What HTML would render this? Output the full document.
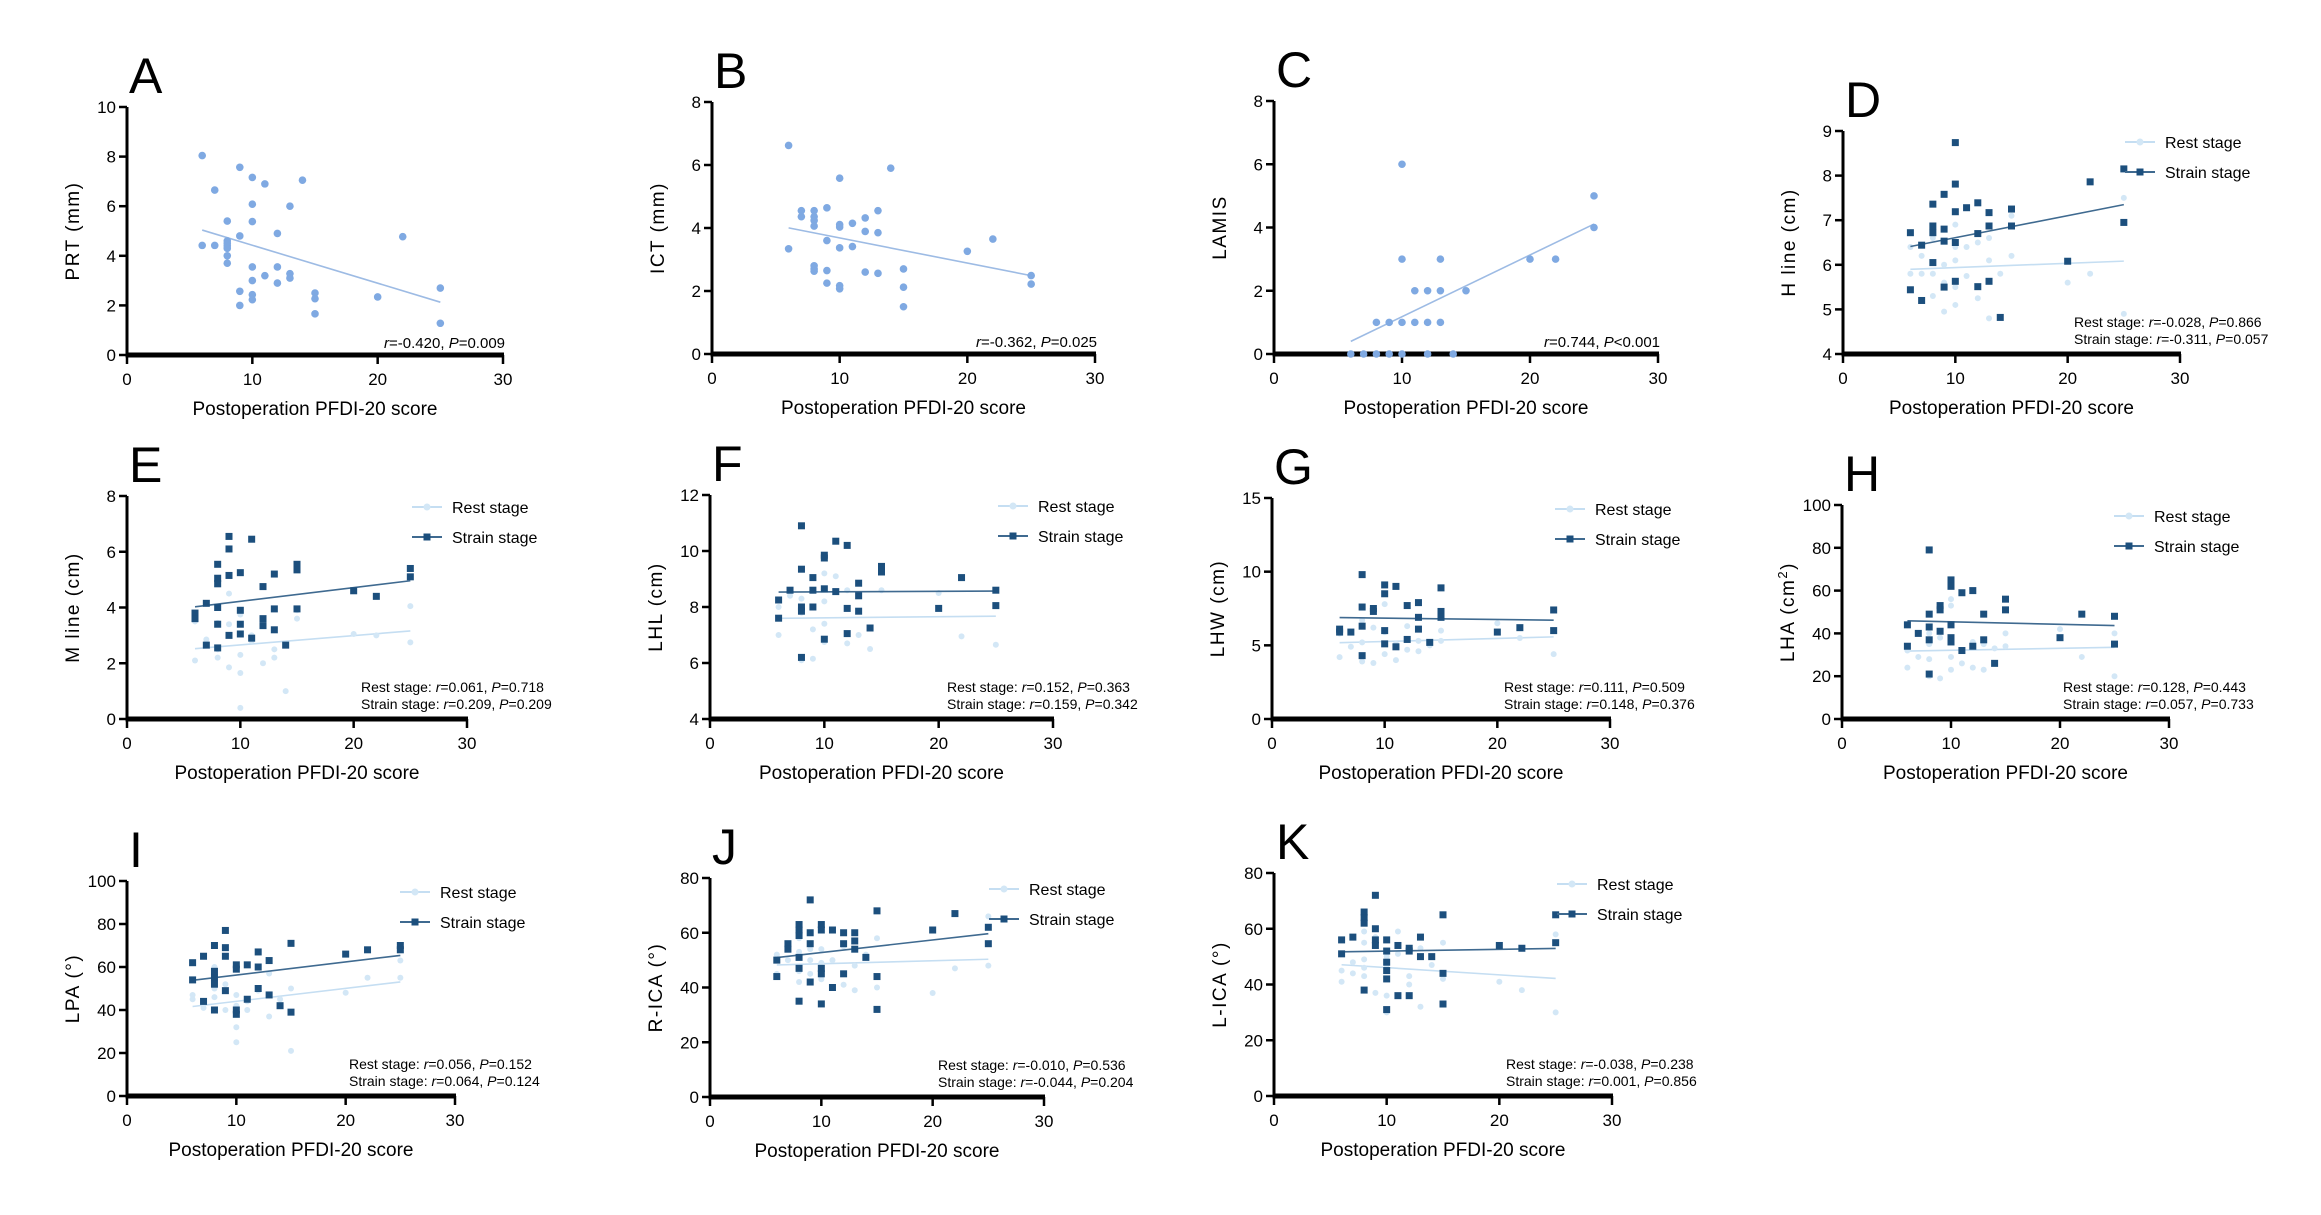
<!DOCTYPE html>
<html><head><meta charset="utf-8"><style>
html,body{margin:0;padding:0;background:#fff;}
svg{display:block;font-family:"Liberation Sans",Arial,sans-serif;}
</style></head><body>
<svg id="fig" width="2321" height="1215" viewBox="0 0 2321 1215"></svg>
<script>
// ---- Data (x = postoperation PFDI-20 score, y = measurement) ----
const aPts=[[6,8.04],[6,4.42],[7,6.65],[7,4.42],[8,5.4],[8,4.6],[8,4.4],[8,4.5],[8,4.3],[8,4.0],[8,3.7],[9,7.57],[9,4.8],[9,2.57],[9,2.0],[10,7.16],[10,6.08],[10,5.38],[10,3.55],[10,3.0],[10,2.43],[10,2.23],[11,6.9],[11,3.2],[12,4.9],[12,3.55],[12,2.9],[13,6.0],[13,3.28],[13,3.1],[14,7.05],[15,2.5],[15,2.27],[15,1.66],[20,2.34],[22,4.77],[25,2.7],[25,1.28]];
const bPts=[[6,6.62],[6,3.34],[7,4.55],[7,4.36],[8,4.55],[8,4.36],[8,4.24],[8,4.06],[8,2.8],[8,2.7],[8,2.63],[9,4.64],[9,3.6],[9,2.65],[9,2.25],[10,5.58],[10,4.11],[10,4.03],[10,3.37],[10,2.17],[10,2.07],[11,4.15],[11,3.41],[12,4.32],[12,3.89],[12,2.6],[13,4.55],[13,3.85],[13,2.56],[14,5.9],[15,2.7],[15,2.12],[15,1.5],[20,3.26],[22,3.65],[25,2.49],[25,2.22]];
const cPts=[[6,0],[7,0],[8,1],[8,0],[9,1],[9,0],[10,6],[10,3],[10,1],[10,0],[11,2],[11,1],[12,2],[12,1],[12,0],[13,3],[13,2],[13,1],[14,0],[15,2],[20,3],[22,3],[25,5],[25,4]];
const dRest=[[6,6.4],[6,5.8],[7,6.2],[7,5.8],[8,6.6],[8,5.8],[8,5.3],[9,6.0],[9,5.6],[9,4.95],[10,6.9],[10,6.4],[10,6.1],[10,5.5],[10,5.1],[11,6.4],[11,5.75],[12,6.5],[12,5.25],[13,6.6],[13,6.1],[13,4.8],[14,5.8],[15,6.2],[15,7.1],[20,5.6],[22,5.8],[25,7.5],[25,4.9]];
const dStrain=[[6,6.72],[6,5.44],[7,6.44],[7,5.2],[8,7.36],[8,6.87],[8,6.72],[8,6.05],[9,7.58],[9,6.8],[9,6.53],[9,5.5],[10,8.74],[10,7.81],[10,7.19],[10,6.5],[10,5.63],[11,7.28],[12,7.39],[12,6.7],[12,5.51],[13,7.17],[13,6.87],[13,5.63],[14,4.82],[15,7.25],[15,6.87],[20,6.08],[22,7.86],[25,8.15],[25,6.95]];
const eRest=[[6,3.5],[6,2.1],[7,2.85],[8,3.45],[8,2.5],[8,2.2],[9,4.5],[9,3.4],[9,1.85],[10,3.75],[10,2.3],[10,1.65],[10,0.4],[11,3.0],[11,2.8],[12,2.0],[13,2.5],[13,2.2],[14,1.0],[15,3.9],[15,3.6],[20,3.05],[22,3.0],[25,4.05],[25,2.75]];
const eStrain=[[6,3.8],[6,3.6],[7,4.15],[7,2.65],[8,5.55],[8,5.05],[8,4.85],[8,4.0],[8,3.4],[8,2.55],[9,6.55],[9,6.1],[9,5.15],[9,3.0],[10,5.25],[10,3.9],[10,3.4],[10,3.05],[11,6.45],[11,2.9],[12,4.75],[12,3.6],[12,3.35],[13,5.2],[13,3.95],[13,3.2],[14,2.65],[15,5.55],[15,5.35],[15,3.95],[20,4.6],[22,4.4],[25,5.4],[25,5.1]];
const fRest=[[6,7.0],[6,8.0],[7,8.4],[8,8.3],[8,7.8],[8,6.1],[9,7.2],[9,6.15],[10,9.2],[10,8.2],[10,7.4],[10,6.75],[11,9.1],[12,8.6],[12,6.7],[13,7.0],[14,6.5],[15,8.6],[20,8.5],[22,6.95],[25,8.6],[25,6.65]];
const fStrain=[[6,8.25],[6,7.6],[7,8.6],[8,10.9],[8,9.35],[8,8.0],[8,7.85],[8,6.2],[9,9.05],[9,8.6],[9,8.0],[10,9.85],[10,9.75],[10,8.65],[10,6.85],[11,10.35],[11,8.55],[12,10.2],[12,7.95],[12,7.05],[13,8.85],[13,8.4],[13,7.85],[14,7.25],[15,9.45],[15,9.25],[20,7.95],[22,9.05],[25,8.6],[25,8.05]];
const gRest=[[6,5.8],[6,4.2],[7,4.9],[8,6.7],[8,5.2],[8,3.9],[9,6.2],[9,3.8],[10,7.8],[10,5.9],[10,4.4],[11,5.1],[11,4.0],[12,6.3],[12,4.7],[13,5.3],[13,4.6],[14,5.0],[15,6.0],[15,5.3],[20,6.5],[22,5.5],[25,6.0],[25,4.4]];
const gStrain=[[6,6.1],[6,5.9],[7,5.9],[8,9.8],[8,7.6],[8,6.3],[8,4.3],[9,7.5],[9,7.3],[10,9.1],[10,8.5],[10,6.0],[10,5.1],[11,9.0],[11,4.9],[12,7.7],[12,5.4],[13,7.9],[13,6.9],[13,6.1],[14,5.2],[15,8.9],[15,7.3],[15,6.9],[20,5.9],[22,6.2],[25,7.4],[25,6.0]];
const hRest=[[6,32],[6,24],[7,29],[8,40],[8,35],[8,28],[8,20],[9,38],[9,19],[10,56],[10,53],[10,29],[10,23],[11,26],[12,36],[12,24],[13,35],[13,23],[14,33],[15,40],[15,34],[20,42],[22,29],[25,40],[25,20]];
const hStrain=[[6,34],[6,44],[7,40],[8,79],[8,49],[8,43],[8,37],[8,21],[9,53],[9,51],[9,41],[10,65],[10,62],[10,44],[10,38],[10,36],[11,59],[11,32],[12,60],[12,34],[13,49],[13,37],[14,26],[15,56],[15,51],[20,38],[22,49],[25,48],[25,35]];
const iRest=[[6,47],[6,45],[7,41],[8,60],[8,50],[8,46],[9,52],[9,40],[10,47],[10,42],[10,32],[10,25],[11,44],[11,40],[12,49],[13,57],[13,37],[14,45],[15,50],[15,21],[20,48],[22,55],[25,63],[25,55]];
const iStrain=[[6,62],[6,54],[7,65],[7,44],[8,70],[8,58],[8,55],[8,52],[8,40],[9,77],[9,69],[9,65],[9,49],[10,61],[10,59],[10,40],[10,38],[11,61],[11,45],[12,67],[12,60],[12,50],[13,63],[13,47],[14,42],[15,71],[15,39],[20,66],[22,68],[25,70],[25,68]];
const jRest=[[6,45],[6,52],[7,50],[8,58],[8,53],[8,46],[8,42],[9,54],[9,50],[9,45],[10,54],[10,49],[10,43],[11,50],[12,55],[12,41],[13,48],[13,39],[14,52],[15,58],[15,40],[20,38],[22,47],[25,66],[25,48]];
const jStrain=[[6,50],[6,44],[7,56],[7,54],[8,63],[8,61],[8,59],[8,51],[8,47],[8,35],[9,72],[9,60],[9,56],[9,42],[10,63],[10,61],[10,47],[10,45],[10,34],[11,61],[11,40],[12,60],[12,56],[12,45],[13,60],[13,57],[13,54],[14,51],[15,68],[15,44],[15,32],[20,61],[22,67],[25,62],[25,56]];
const kRest=[[6,45],[6,41],[7,48],[7,44],[8,59],[8,55],[8,49],[8,46],[8,43],[9,57],[9,37],[10,50],[10,47],[10,36],[10,30],[11,59],[11,51],[12,43],[12,40],[13,53],[13,32],[14,47],[15,55],[15,42],[20,41],[22,38],[25,58],[25,30]];
const kStrain=[[6,56],[6,51],[7,57],[8,66],[8,64],[8,62],[8,38],[9,72],[9,60],[9,56],[9,54],[10,56],[10,52],[10,48],[10,45],[10,42],[10,31],[11,54],[11,36],[12,53],[12,52],[12,36],[13,57],[13,50],[14,50],[15,65],[15,44],[15,33],[20,54],[22,53],[25,65],[25,55]];
const xTicks=[0,10,20,30];

const NS="http://www.w3.org/2000/svg";
const svg=document.getElementById('fig');
function mk(tag,attrs,parent,txt){const e=document.createElementNS(NS,tag);for(const k in attrs)e.setAttribute(k,attrs[k]);if(txt!==undefined)e.textContent=txt;(parent||svg).appendChild(e);return e;}
function fit(p){const n=p.length;let sx=0,sy=0,sxx=0,sxy=0;p.forEach(([x,y])=>{sx+=x;sy+=y;sxx+=x*x;sxy+=x*y;});const b=(n*sxy-sx*sy)/(n*sxx-sx*sx);const a=(sy-b*sx)/n;const xs=p.map(q=>q[0]);return{a,b,x0:Math.min(...xs),x1:Math.max(...xs)};}

const REST='#d3e7f6', RESTL='#c5def2', STRAIN='#1c4f7d', STRAINL='#3f6a90', SINGLE='#7fa9e2';

function panel(c){
  const g=mk('g',{});
  
  
  const sx=v=>c.ax+(v/30)*(c.x30-c.ax);
  const sy=v=>c.yb-(v-c.ymin)/(c.ymax-c.ymin)*(c.yb-c.yt);
  const L=mk('text',{x:c.ax+2,y:c.yt-14,'font-size':50,fill:'#000'},g,c.letter);
  
  
  // y ticks
  for(let v=c.ymin;v<=c.ymax+1e-9;v+=c.ystep){
    mk('line',{x1:c.ax-8,x2:c.ax,y1:sy(v),y2:sy(v),stroke:'#000','stroke-width':2.5},g);
    const t=mk('text',{x:c.ax-11,y:sy(v)+6,'font-size':17,'text-anchor':'end'},g,String(v));
    
    
  }
  xTicks.forEach(v=>{
    mk('line',{x1:sx(v),x2:sx(v),y1:c.yb,y2:c.yb+9,stroke:'#000','stroke-width':2.5},g);
    const t=mk('text',{x:sx(v),y:c.yb+30,'font-size':17,'text-anchor':'middle'},g,String(v));
    
    
  });
  const ya=mk('line',{x1:c.ax,x2:c.ax,y1:c.yt,y2:c.yb,stroke:'#000','stroke-width':3},g);
  
  
  const xa=mk('line',{x1:c.ax-1.5,x2:c.x30+1,y1:c.yb,y2:c.yb,stroke:'#000','stroke-width':5},g);
  
  
  const xt=mk('text',{x:(c.ax+c.x30)/2,y:c.yb+60,'font-size':19,'text-anchor':'middle'},g,'Postoperation PFDI-20 score');
  
  
  const cy=(c.yt+c.yb)/2, cx=c.ax-48;
  const yt=mk('text',{x:cx,y:cy,'font-size':19,'text-anchor':'middle','letter-spacing':'1.5',transform:`rotate(-90 ${cx} ${cy})`},g);
  yt.innerHTML=c.ytitle;
  
  
  c.series.forEach(s=>{
    const f=fit(s.pts);
    const rl=mk('line',{x1:sx(f.x0),y1:sy(f.a+f.b*f.x0),x2:sx(f.x1),y2:sy(f.a+f.b*f.x1),stroke:s.line,'stroke-width':1.6},g);
    
    
    s.pts.forEach(([x,y])=>{
      let m;
      if(s.shape==='sq') m=mk('rect',{x:sx(x)-3.5,y:sy(y)-3.5,width:7,height:7,fill:s.color},g);
      else m=mk('circle',{cx:sx(x),cy:sy(y),r:s.r,fill:s.color},g);
      
      
    });
  });
  if(c.stats1){
    const st=mk('text',{x:c.x30+2,y:c.yb-7,'font-size':15,'text-anchor':'end'},g);
    st.innerHTML=c.stats1;
    
    
  }
  if(c.stats2){
    const s1=mk('text',{x:c.x30-106,y:c.yb-27,'font-size':14},g);
    s1.innerHTML='Rest stage: '+c.stats2[0];
    
    
    const s2=mk('text',{x:c.x30-106,y:c.yb-10,'font-size':14},g);
    s2.innerHTML='Strain stage: '+c.stats2[1];
    
    
    // legend
    const lx=c.x30-55, ly1=c.yt+11, ly2=c.yt+41;
    const lg=mk('g',{},g);
    
    
    mk('line',{x1:lx,x2:lx+30,y1:ly1,y2:ly1,stroke:RESTL,'stroke-width':2},lg);
    mk('circle',{cx:lx+15,cy:ly1,r:3.5,fill:REST},lg);
    const t1=mk('text',{x:c.x30-15,y:ly1+6,'font-size':16},lg,'Rest stage');
    
    
    mk('line',{x1:lx,x2:lx+30,y1:ly2,y2:ly2,stroke:STRAINL,'stroke-width':2},lg);
    mk('rect',{x:lx+11.5,y:ly2-3.5,width:7,height:7,fill:STRAIN},lg);
    const t2=mk('text',{x:c.x30-15,y:ly2+6,'font-size':16},lg,'Strain stage');
    
    
  }
}
const single=p=>[{pts:p,shape:'c',r:3.8,color:SINGLE,line:'#9dbbe4',name:'patient'}];
const dual=(r,s)=>[{pts:r,shape:'c',r:3,color:REST,line:RESTL,name:'rest-stage'},{pts:s,shape:'sq',color:STRAIN,line:STRAINL,name:'strain-stage'}];
const it=(r,p)=>`<tspan font-style="italic">r</tspan>=${r}, <tspan font-style="italic">P</tspan>${p}`;

panel({letter:'A',ax:127,x30:503,yb:355,yt:107,ymin:0,ymax:10,ystep:2,ytitle:'PRT (mm)',series:single(aPts),stats1:it('-0.420','=0.009')});
panel({letter:'B',ax:712,x30:1095,yb:354,yt:102,ymin:0,ymax:8,ystep:2,ytitle:'ICT (mm)',series:single(bPts),stats1:it('-0.362','=0.025')});
panel({letter:'C',ax:1274,x30:1658,yb:354,yt:101,ymin:0,ymax:8,ystep:2,ytitle:'LAMIS',series:single(cPts),stats1:it('0.744','&lt;0.001')});
panel({letter:'D',ax:1843,x30:2180,yb:354,yt:131,ymin:4,ymax:9,ystep:1,ytitle:'H line (cm)',series:dual(dRest,dStrain),stats2:[it('-0.028','=0.866'),it('-0.311','=0.057')]});
panel({letter:'E',ax:127,x30:467,yb:719,yt:496,ymin:0,ymax:8,ystep:2,ytitle:'M line (cm)',series:dual(eRest,eStrain),stats2:[it('0.061','=0.718'),it('0.209','=0.209')]});
panel({letter:'F',ax:710,x30:1053,yb:719,yt:495,ymin:4,ymax:12,ystep:2,ytitle:'LHL (cm)',series:dual(fRest,fStrain),stats2:[it('0.152','=0.363'),it('0.159','=0.342')]});
panel({letter:'G',ax:1272,x30:1610,yb:719,yt:498,ymin:0,ymax:15,ystep:5,ytitle:'LHW (cm)',series:dual(gRest,gStrain),stats2:[it('0.111','=0.509'),it('0.148','=0.376')]});
panel({letter:'H',ax:1842,x30:2169,yb:719,yt:505,ymin:0,ymax:100,ystep:20,ytitle:'LHA (cm<tspan baseline-shift="super" font-size="13">2</tspan>)',series:dual(hRest,hStrain),stats2:[it('0.128','=0.443'),it('0.057','=0.733')]});
panel({letter:'I',ax:127,x30:455,yb:1096,yt:881,ymin:0,ymax:100,ystep:20,ytitle:'LPA (°)',series:dual(iRest,iStrain),stats2:[it('0.056','=0.152'),it('0.064','=0.124')]});
panel({letter:'J',ax:710,x30:1044,yb:1097,yt:878,ymin:0,ymax:80,ystep:20,ytitle:'R-ICA (°)',series:dual(jRest,jStrain),stats2:[it('-0.010','=0.536'),it('-0.044','=0.204')]});
panel({letter:'K',ax:1274,x30:1612,yb:1096,yt:873,ymin:0,ymax:80,ystep:20,ytitle:'L-ICA (°)',series:dual(kRest,kStrain),stats2:[it('-0.038','=0.238'),it('0.001','=0.856')]});
</script>
</body></html>
